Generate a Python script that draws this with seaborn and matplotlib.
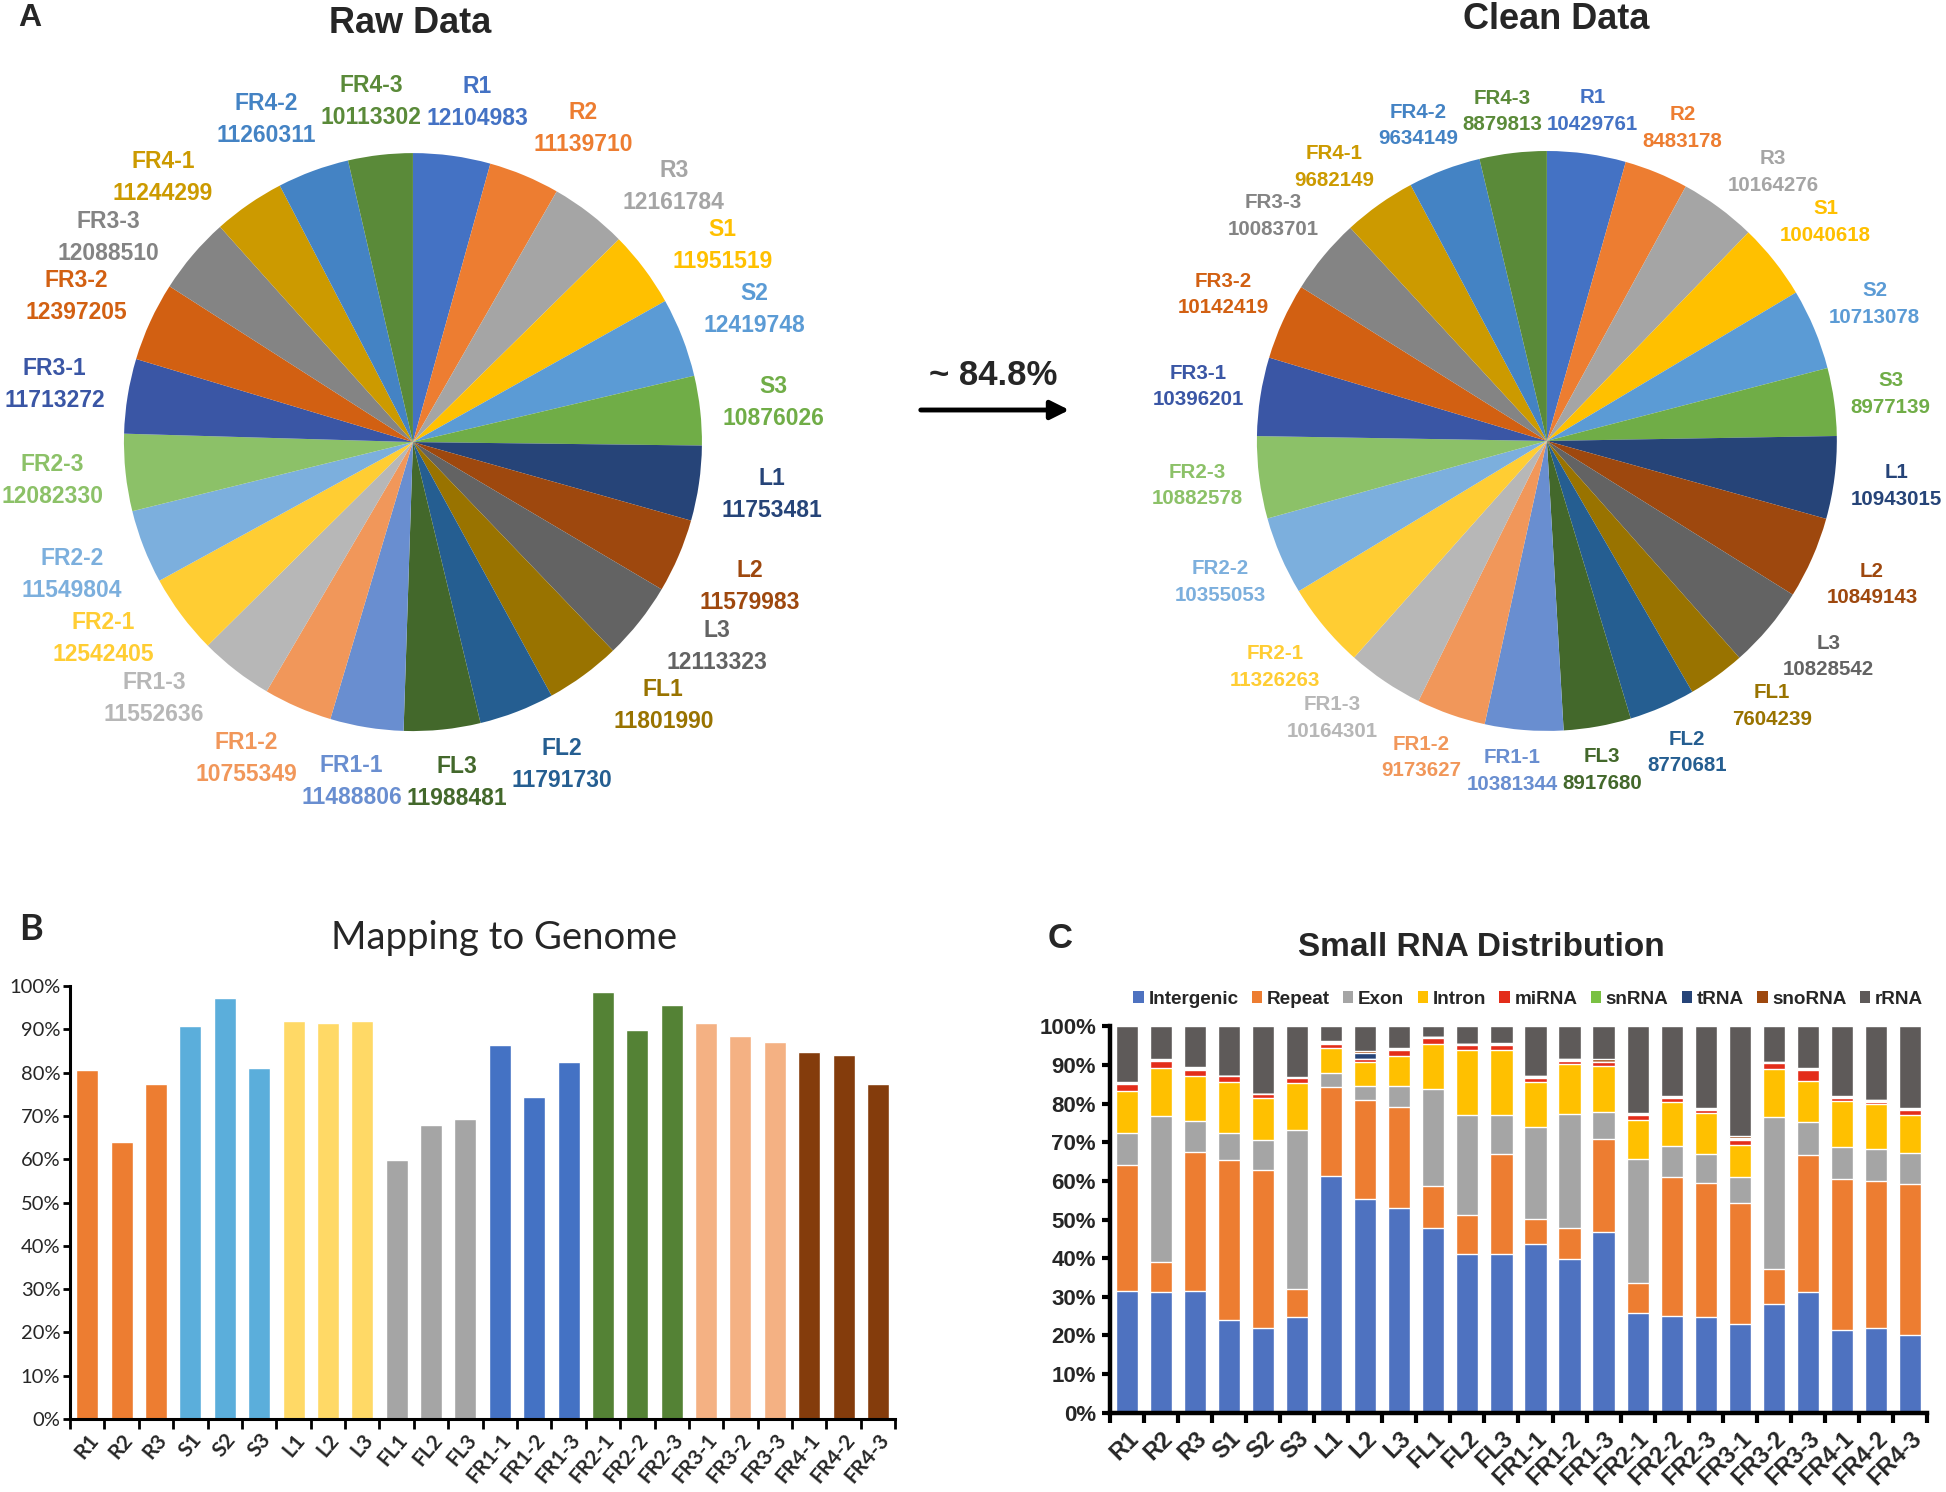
import matplotlib
matplotlib.use("Agg")
import matplotlib.pyplot as plt
from matplotlib.patches import Patch, FancyArrowPatch
from matplotlib.ticker import FixedLocator
import numpy as np
import pandas as pd
import seaborn as sns

# ---- data ----
samples = ["R1", "R2", "R3", "S1", "S2", "S3", "L1", "L2", "L3", "FL1", "FL2", "FL3",
           "FR1-1", "FR1-2", "FR1-3", "FR2-1", "FR2-2", "FR2-3",
           "FR3-1", "FR3-2", "FR3-3", "FR4-1", "FR4-2", "FR4-3"]

raw_reads = [12104983, 11139710, 12161784, 11951519, 12419748, 10876026,
             11753481, 11579983, 12113323, 11801990, 11791730, 11988481,
             11488806, 10755349, 11552636, 12542405, 11549804, 12082330,
             11713272, 12397205, 12088510, 11244299, 11260311, 10113302]
clean_reads = [10429761, 8483178, 10164276, 10040618, 10713078, 8977139,
               10943015, 10849143, 10828542, 7604239, 8770681, 8917680,
               10381344, 9173627, 10164301, 11326263, 10355053, 10882578,
               10396201, 10142419, 10083701, 9682149, 9634149, 8879813]

# mapping rate (%)
mapping_rate = [80.7, 64.1, 77.3, 90.7, 97.2, 81.0, 91.9, 91.6, 91.9, 59.9, 68.0, 69.2,
                86.5, 74.3, 82.5, 98.6, 89.9, 95.6, 91.6, 88.6, 87.2, 84.9, 84.1, 77.3]

# small RNA distribution (%)
rna_types = ["Intergenic", "Repeat", "Exon", "Intron", "miRNA", "snRNA", "tRNA", "snoRNA", "rRNA"]
intergenic = [31.4, 31.2, 31.4, 24.1, 21.9, 24.8, 61.4, 55.2, 53.1, 47.7, 41.0, 41.0,
              43.7, 39.7, 46.7, 25.9, 25.1, 24.8, 22.9, 28.1, 31.2, 21.4, 21.9, 20.0]
repeat = [32.7, 7.9, 36.1, 41.2, 41.0, 7.1, 22.9, 25.8, 26.0, 10.9, 10.2, 25.9,
          6.4, 8.2, 24.2, 7.6, 35.8, 34.6, 31.4, 9.2, 35.4, 39.0, 38.2, 39.2]
exon = [8.3, 37.6, 7.9, 7.1, 7.6, 41.3, 3.6, 3.5, 5.4, 25.1, 26.0, 10.3,
        23.8, 29.4, 7.0, 32.1, 8.1, 7.5, 6.6, 39.3, 8.6, 8.5, 8.1, 8.1]
intron = [10.8, 12.6, 11.8, 13.3, 11.1, 12.2, 6.6, 6.4, 7.8, 11.8, 16.6, 16.6,
          11.8, 12.9, 11.9, 10.3, 11.5, 10.6, 8.3, 12.4, 10.8, 11.9, 11.6, 9.7]
mirna = [1.9, 1.7, 1.6, 1.4, 0.8, 1.2, 1.0, 0.7, 1.5, 1.6, 1.3, 1.4,
         1.0, 0.9, 0.9, 1.2, 1.0, 0.9, 1.5, 1.5, 2.7, 0.7, 0.7, 1.3]
snrna = [0.1, 0.4, 0.3, 0.1, 0.1, 0.1, 0.1, 0.1, 0.2, 0.1, 0.3, 0.3,
         0.1, 0.1, 0.1, 0.1, 0.1, 0.1, 0.1, 0.1, 0.1, 0.3, 0.3, 0.2]
trna = [0.1, 0.05, 0.1, 0.05, 0.05, 0.05, 0.4, 1.4, 0.1, 0.05, 0.05, 0.05,
        0.3, 0.3, 0.1, 0.1, 0.1, 0.1, 0.4, 0.2, 0.2, 0.05, 0.05, 0.05]
snorna = [0.3, 0.05, 0.2, 0.05, 0.05, 0.25, 0.2, 0.5, 0.4, 0.15, 0.05, 0.05,
          0.2, 0.2, 0.6, 0.2, 0.2, 0.2, 0.4, 0.1, 0.2, 0.15, 0.05, 0.25]
rrna = [14.4, 8.5, 10.6, 12.7, 17.4, 13.0, 3.8, 6.4, 5.5, 2.6, 4.5, 4.4,
        12.7, 8.3, 8.5, 22.5, 18.1, 21.2, 28.4, 9.1, 10.8, 18.0, 19.1, 21.2]

# ---- styles ----
pie_colors = ["#4472C4", "#ED7D31", "#A5A5A5", "#FFC000", "#5B9BD5", "#70AD47",
              "#264478", "#9E480E", "#636363", "#997300", "#255E91", "#43682B",
              "#698ED0", "#F1975A", "#B7B7B7", "#FFCD33", "#7CAFDD", "#8CC168",
              "#3A56A5", "#D26012", "#848484", "#CC9A00", "#4483C4", "#5A8A39"]
group_colors = ["#ED7D31", "#5BAEDB", "#FFD966", "#A5A5A5", "#4472C4", "#548235", "#F4B183", "#843C0C"]
rna_colors = ["#4E72C0", "#ED7D31", "#A5A5A5", "#FFC000", "#E32D1A", "#7AC143", "#264478", "#9E480E", "#5E5A59"]

sns.set_theme(style="ticks")
plt.rcParams["font.family"] = ["Liberation Sans", "DejaVu Sans"]

fig = plt.figure(figsize=(19.46, 14.92), dpi=100)


# ---- A: pies ----
def layout_labels(ax, wedges, texts, r0=1.07, pad=0.012):
    # excel-like "best fit": label box just clear of a ring, neighbours pushed apart
    fig.canvas.draw()
    rend = fig.canvas.get_renderer()
    inv = ax.transData.inverted()
    half = []
    for t in texts:
        bb = t.get_window_extent(rend)
        (x0, y0), (x1, y1) = inv.transform([[bb.x0, bb.y0], [bb.x1, bb.y1]])
        half.append(((x1 - x0) / 2, (y1 - y0) / 2))
    ang = np.array([np.deg2rad((w.theta1 + w.theta2) / 2) for w in wedges])

    def pos(i):
        c, s = np.cos(ang[i]), np.sin(ang[i])
        hw, hh = half[i]
        d = hw * abs(c) + hh * abs(s)
        return (r0 + d) * c, (r0 + d) * s

    n = len(texts)
    for _ in range(400):
        moved = False
        for i in range(n):
            j = (i + 1) % n
            xi, yi = pos(i)
            xj, yj = pos(j)
            if (abs(xi - xj) < half[i][0] + half[j][0] + pad and
                    abs(yi - yj) < half[i][1] + half[j][1] + pad):
                ang[i] += np.deg2rad(0.25)
                ang[j] -= np.deg2rad(0.25)
                moved = True
        if not moved:
            break
    for i, t in enumerate(texts):
        t.set_position(pos(i))


def draw_pie(rect, values, fsize, r0):
    ax = fig.add_axes(rect)
    labels = [f"{s}\n{v}" for s, v in zip(samples, values)]
    wedges, texts = ax.pie(values, labels=labels, colors=pie_colors, startangle=90,
                           counterclock=False, labeldistance=1.2,
                           wedgeprops=dict(linewidth=0),
                           textprops=dict(fontsize=fsize, fontweight="bold"))
    for t, c in zip(texts, pie_colors):
        t.set_color(c)
        t.set_ha("center")
        t.set_va("center")
        t.set_linespacing(1.5)
    ax.set_xlim(-1, 1)
    ax.set_ylim(-1, 1)
    layout_labels(ax, wedges, texts, r0=r0)
    return ax


draw_pie([0.0637, 0.510, 0.2970, 0.3874], raw_reads, 16.5, 1.07)
draw_pie([0.6459, 0.5101, 0.2980, 0.3887], clean_reads, 14.8, 1.05)

fig.text(0.2107, 0.984, "Raw Data", ha="center", va="center", fontsize=26, fontweight="bold")
fig.text(0.7995, 0.9866, "Clean Data", ha="center", va="center", fontsize=26, fontweight="bold")
fig.text(0.0154, 0.988, "A", ha="center", va="center", fontsize=23, fontweight="bold")
fig.text(0.5103, 0.748, "~ 84.8%", ha="center", va="center", fontsize=25, fontweight="bold")
fig.add_artist(FancyArrowPatch(
    (918 / 1946, 1 - 410 / 1492), (1072 / 1946, 1 - 410 / 1492),
    transform=fig.transFigure, arrowstyle="-|>", mutation_scale=28,
    linewidth=3.5, color="black"))

# ---- B: mapping rate ----
map_df = pd.DataFrame({"sample": samples, "rate": mapping_rate})
bar_palette = [c for c in group_colors for _ in range(3)]
axb = fig.add_axes([0.036, 0.049, 0.424, 0.290])
sns.barplot(data=map_df, x="sample", y="rate", hue="sample", palette=bar_palette,
            width=0.64, saturation=1, legend=False, ax=axb)
axb.set_xlim(-0.5, len(samples) - 0.5)
axb.set_ylim(0, 100)
axb.set_yticks(range(0, 101, 10))
axb.set_yticklabels([f"{v}%" for v in range(0, 101, 10)], fontsize=14.5, family="Lato")
axb.set_xticks(range(len(samples)))
axb.set_xticklabels(samples, rotation=50, fontsize=15, fontweight="bold", family="Lato",
                    ha="right", va="top", rotation_mode="anchor")
axb.xaxis.set_minor_locator(FixedLocator(np.arange(-0.5, len(samples), 1)))
axb.tick_params(axis="x", which="major", length=0, pad=8)
axb.tick_params(axis="x", which="minor", length=7, width=2, color="black")
axb.tick_params(axis="y", length=5, width=2, color="black", pad=2)
axb.set_xlabel("")
axb.set_ylabel("")
for s in ["top", "right"]:
    axb.spines[s].set_visible(False)
for s in ["left", "bottom"]:
    axb.spines[s].set_linewidth(2.2)
    axb.spines[s].set_color("black")
fig.text(0.016, 0.377, "B", ha="center", va="center", fontsize=26, fontweight="bold", family="Lato")
fig.text(0.259, 0.371, "Mapping to Genome", ha="center", va="center", fontsize=27.5, family="Lato")

# ---- C: small RNA distribution ----
comp = {"Intergenic": intergenic, "Repeat": repeat, "Exon": exon, "Intron": intron,
        "miRNA": mirna, "snRNA": snrna, "tRNA": trna, "snoRNA": snorna, "rRNA": rrna}
axc = fig.add_axes([0.5704, 0.0532, 0.4198, 0.2588])
cums = np.cumsum([comp[n] for n in rna_types], axis=0)
for name, top, color in reversed(list(zip(rna_types, cums, rna_colors))):
    sns.barplot(x=samples, y=top, color=color, width=0.65, saturation=1, ax=axc)
axc.set_xlim(-0.5, len(samples) - 0.5)
axc.set_ylim(0, 100)
axc.set_yticks(range(0, 101, 10))
axc.set_yticklabels([f"{v}%" for v in range(0, 101, 10)], fontsize=16, fontweight="bold")
axc.set_xticks(range(len(samples)))
axc.set_xticklabels(samples, rotation=45, fontsize=17, fontweight="bold",
                    ha="right", va="top", rotation_mode="anchor")
axc.xaxis.set_minor_locator(FixedLocator(np.arange(-0.5, len(samples), 1)))
axc.tick_params(axis="x", which="major", length=0, pad=10)
axc.tick_params(axis="x", which="minor", length=7, width=3, color="black")
axc.tick_params(axis="y", length=6, width=3, color="black", pad=4)
for s in ["top", "right"]:
    axc.spines[s].set_visible(False)
for s in ["left", "bottom"]:
    axc.spines[s].set_linewidth(3.2)
    axc.spines[s].set_color("black")
handles = [Patch(facecolor=c, edgecolor="none", label=n) for n, c in zip(rna_types, rna_colors)]
fig.legend(handles=handles, loc="center", bbox_to_anchor=(0.7853, 1 - 999 / 1492), ncol=9,
           frameon=False, prop=dict(weight="bold", size=13.6), handlelength=0.55,
           handleheight=0.55, handletextpad=0.25, columnspacing=0.7)
fig.text(0.5447, 1 - 938 / 1492, "C", ha="center", va="center", fontsize=25, fontweight="bold")
fig.text(0.761, 1 - 947 / 1492, "Small RNA Distribution", ha="center", va="center",
         fontsize=24, fontweight="bold")

fig.savefig("out.png", dpi=100)
